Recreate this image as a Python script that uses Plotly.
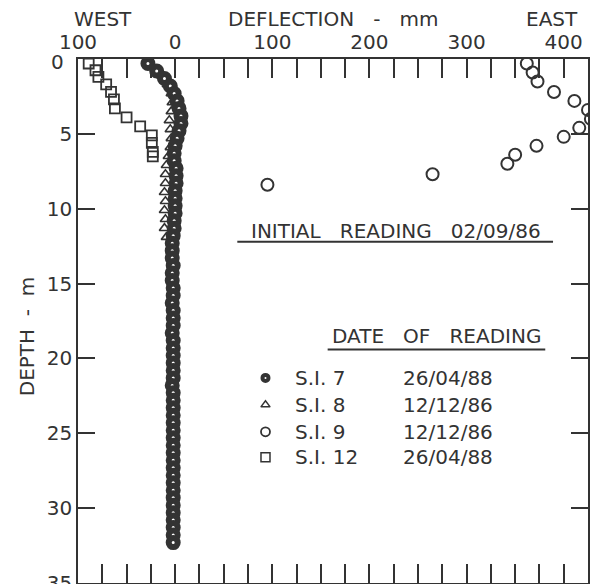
import plotly.graph_objects as go

# ---------------- data ----------------
# S.I. 7  (26/04/88)
si7_depth = [0.3, 0.8, 1.3, 1.8, 2.3, 2.8, 3.3, 3.8, 4.3, 4.8, 5.3, 5.8, 6.3, 6.8, 7.3,
             7.8, 8.3, 8.8, 9.3, 9.8, 10.3, 10.8, 11.3, 11.8, 12.3, 12.8, 13.3, 13.8, 14.3,
             14.8, 15.3, 15.8, 16.3, 16.8, 17.3, 17.8, 18.3, 18.8, 19.3, 19.8, 20.3, 20.8,
             21.3, 21.8, 22.3, 22.8, 23.3, 23.8, 24.3, 24.8, 25.3, 25.8, 26.3, 26.8, 27.3,
             27.8, 28.3, 28.8, 29.3, 29.8, 30.3, 30.8, 31.3, 31.8, 32.3]
si7_defl = [-28, -19, -11, -5, -1, 2, 4, 6, 6, 4, 2, 0, -1, -1, 1,
            1, 1, 0, 0, 0, 0, -1, -1, -2, -3, -3, -3, -2, -3, -3,
            -2, -2, -3, -2, -2, -2, -3, -2, -2, -2, -2, -2, -2, -3, -2,
            -2, -2, -2, -2, -2, -2, -2, -2, -2, -2, -2, -2, -2, -2, -2,
            -2, -2, -2, -2, -2]

# S.I. 8  (12/12/86)
si8_depth = [0.5, 1.1, 1.7, 2.3, 2.9, 3.5, 4.1, 4.7, 5.3, 5.9, 6.5, 7.1, 7.7, 8.3,
             8.9, 9.5, 10.1, 10.7, 11.3, 11.9]
si8_defl = [-25, -14, -8, -4, -3, -4, -6, -5, -4, -5, -7, -9, -10, -10,
            -11, -10, -11, -10, -11, -9]

# S.I. 9  (12/12/86)
si9_depth = [0.3, 0.9, 1.5, 2.2, 2.8, 3.4, 4.0, 4.6, 5.2, 5.8, 6.4, 7.0, 7.7, 8.4]
si9_defl = [362, 368, 373, 390, 411, 425, 428, 416, 400, 372, 350, 342, 265, 95]

# S.I. 12 (26/04/88)
si12_depth = [0.3, 0.75, 1.2, 1.7, 2.2, 2.7, 3.3, 3.9, 4.5, 5.1, 5.6, 6.2, 6.5]
si12_defl = [-89, -82, -79, -71, -66, -63, -62, -50, -36, -24, -24, -23, -23]

series_names = ["S.I. 7", "S.I. 8", "S.I. 9", "S.I. 12"]
series_dates = ["26/04/88", "12/12/86", "12/12/86", "26/04/88"]

x_label_vals = [-100, 0, 100, 200, 300, 400]
x_label_text = ["100", "0", "100", "200", "300", "400"]
y_tickvals = [0, 5, 10, 15, 20, 25, 30, 35]
y_ticktext = ["", "5", "10", "15", "20", "25", "30", "35"]   # the "0" is set apart, lower-left

# ---------------- style ----------------
INK = "#333333"
FONT = "DejaVu Sans"
FS = 20
NB = "\u00a0"
SP = NB * 3

# tick marks every 25 mm, labels only at the hundreds
x_tickvals = list(range(-100, 426, 25))
x_ticktext = [x_label_text[x_label_vals.index(v)] if v in x_label_vals else "" for v in x_tickvals]

fig = go.Figure()

fig.add_trace(go.Scatter(
    x=si8_defl, y=si8_depth, mode="markers", name=series_names[1],
    marker=dict(symbol="triangle-up-open", size=9, color=INK, line=dict(width=1.6, color=INK)),
    showlegend=False, cliponaxis=True))
fig.add_trace(go.Scatter(
    x=si7_defl, y=si7_depth, mode="markers", name=series_names[0],
    marker=dict(symbol="circle", size=9, color="white", line=dict(width=6, color=INK)),
    showlegend=False, cliponaxis=True))
fig.add_trace(go.Scatter(
    x=si9_defl, y=si9_depth, mode="markers", name=series_names[2],
    marker=dict(symbol="circle-open", size=12, color=INK, line=dict(width=2, color=INK)),
    showlegend=False, cliponaxis=True))
fig.add_trace(go.Scatter(
    x=si12_defl, y=si12_depth, mode="markers", name=series_names[3],
    marker=dict(symbol="square-open", size=10, color=INK, line=dict(width=1.8, color=INK)),
    showlegend=False, cliponaxis=True))

# ---------------- key (layout positions in data units) ----------------
KEY_X_SYM = 93
KEY_X_NAME = 121
KEY_X_DATE = 281
KEY_ROWS = [21.3, 23.1, 24.9, 26.6]
key_markers = [
    dict(symbol="circle", size=6, color="white", line=dict(width=4, color=INK)),
    dict(symbol="triangle-up-open", size=8, color=INK, line=dict(width=1.5, color=INK)),
    dict(symbol="circle-open", size=9, color=INK, line=dict(width=1.8, color=INK)),
    dict(symbol="square-open", size=9, color=INK, line=dict(width=1.5, color=INK)),
]
for i in range(4):
    fig.add_trace(go.Scatter(x=[KEY_X_SYM], y=[KEY_ROWS[i]], mode="markers",
                             marker=key_markers[i], showlegend=False, hoverinfo="skip"))
    fig.add_annotation(x=KEY_X_NAME, y=KEY_ROWS[i], text=series_names[i], showarrow=False,
                       xanchor="left", yanchor="middle", font=dict(family=FONT, size=FS, color=INK))
    fig.add_annotation(x=KEY_X_DATE, y=KEY_ROWS[i], text=series_dates[i], showarrow=False,
                       xanchor="center", yanchor="middle", font=dict(family=FONT, size=FS, color=INK))

fig.add_annotation(x=269, y=18.5, text="DATE" + SP + "OF" + SP + "READING", showarrow=False,
                   xanchor="center", yanchor="middle", font=dict(family=FONT, size=FS, color=INK))
fig.add_shape(type="line", x0=157, x1=381, y0=19.4, y1=19.4, line=dict(color=INK, width=2))

fig.add_annotation(x=227, y=11.5, text="INITIAL" + SP + "READING" + SP + "02/09/86", showarrow=False,
                   xanchor="center", yanchor="middle", font=dict(family=FONT, size=FS, color=INK))
fig.add_shape(type="line", x0=64, x1=389, y0=12.2, y1=12.2, line=dict(color=INK, width=2))

# axis titles
fig.add_annotation(x=-74, y=1.076, xref="x", yref="paper", text="WEST", showarrow=False,
                   xanchor="center", yanchor="middle", font=dict(family=FONT, size=FS, color=INK))
fig.add_annotation(x=163, y=1.076, xref="x", yref="paper", text="DEFLECTION" + SP + "-" + SP + "mm",
                   showarrow=False, xanchor="center", yanchor="middle", font=dict(family=FONT, size=FS, color=INK))
fig.add_annotation(x=388, y=1.076, xref="x", yref="paper", text="EAST", showarrow=False,
                   xanchor="center", yanchor="middle", font=dict(family=FONT, size=FS, color=INK))
fig.add_annotation(x=-0.1, y=0.469, xref="paper", yref="paper", text="DEPTH" + NB * 2 + "-" + NB * 2 + "m",
                   textangle=-90, showarrow=False, xanchor="center", yanchor="middle",
                   font=dict(family=FONT, size=FS, color=INK))
# the depth "0" label, set lower-left of the corner as in the original
fig.add_annotation(x=-0.041, y=0.994, xref="paper", yref="paper", text="0", showarrow=False,
                   xanchor="center", yanchor="middle", font=dict(family=FONT, size=FS, color=INK))

XR = [-100, 425]
YR = [35, 0]

fig.update_layout(
    width=598, height=584,
    margin=dict(l=78, r=10, t=59, b=1, autoexpand=False),
    paper_bgcolor="white", plot_bgcolor="white",
    showlegend=False,
    font=dict(family=FONT, size=FS, color=INK),
    xaxis=dict(range=XR, side="top", tickmode="array", tickvals=x_tickvals, ticktext=x_ticktext,
               ticks="inside", ticklen=19, tickwidth=1.5, tickcolor=INK,
               showline=True, mirror="ticks", linecolor=INK, linewidth=2,
               showgrid=False, zeroline=False, automargin=False,
               tickfont=dict(family=FONT, size=FS, color=INK)),
    yaxis=dict(range=YR, tickmode="array", tickvals=y_tickvals, ticktext=y_ticktext,
               ticks="inside", ticklen=17, tickwidth=2, tickcolor=INK,
               showline=True, mirror="ticks", linecolor=INK, linewidth=1.5,
               showgrid=False, zeroline=False, ticklabeloverflow="allow", automargin=False,
               tickfont=dict(family=FONT, size=FS, color=INK)),
)

fig.write_html("out.html")
